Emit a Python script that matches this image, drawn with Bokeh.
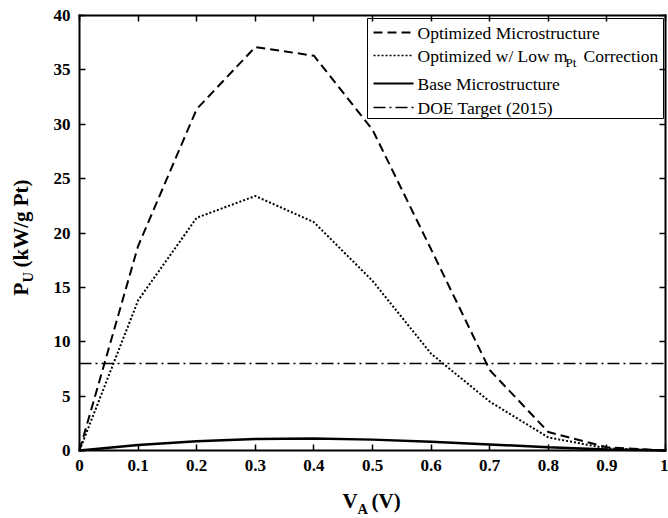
from bokeh.plotting import figure
from bokeh.models import Range1d, LinearAxis, FixedTicker, Label
from bokeh.core.properties import value
from bokeh.embed import file_html
from bokeh.resources import INLINE

# ---- data ----
voltage = [0, 0.1, 0.2, 0.3, 0.4, 0.5, 0.6, 0.7, 0.8, 0.9, 1.0]
optimized = [0, 18.8, 31.4, 37.1, 36.3, 29.5, 18.5, 7.4, 1.7, 0.3, 0]
optimized_low_mpt = [0, 13.8, 21.4, 23.4, 21.0, 15.6, 8.9, 4.5, 1.2, 0.2, 0]
base = [0, 0.5, 0.85, 1.05, 1.1, 1.0, 0.8, 0.55, 0.3, 0.1, 0]
doe_target = 8
doe_x = [0, 1]

x_ticks = [0, 0.1, 0.2, 0.3, 0.4, 0.5, 0.6, 0.7, 0.8, 0.9, 1]
x_tick_labels = ["0", "0.1", "0.2", "0.3", "0.4", "0.5", "0.6", "0.7", "0.8", "0.9", "1"]
y_ticks = [0, 5, 10, 15, 20, 25, 30, 35, 40]
y_tick_labels = ["0", "5", "10", "15", "20", "25", "30", "35", "40"]

legend_labels = ["Optimized Microstructure", "Optimized w/ Low m", "Base Microstructure", "DOE Target (2015)"]

FONT = "Liberation Serif"
W, H = 668, 518
# plot box in page pixels
PX_L, PX_R, PX_T, PX_B = 79, 665, 15, 450
XMIN, XMAX, YMIN, YMAX = 0.0, 1.0, 0.0, 40.0
sx = (PX_R - PX_L) / (XMAX - XMIN)
sy = (PX_B - PX_T) / (YMAX - YMIN)


def dx(px):
    return XMIN + (px - PX_L) / sx


def dy(py):
    return YMIN + (PX_B - py) / sy


p = figure(width=W, height=H, output_backend="svg", toolbar_location=None,
           x_range=Range1d(dx(0), dx(W)), y_range=Range1d(dy(H), dy(0)),
           x_axis_location=None, y_axis_location=None,
           min_border=0)
p.xgrid.visible = False
p.ygrid.visible = False
p.outline_line_color = None
p.background_fill_color = "white"
p.border_fill_color = "white"


def make_axis(ticks, labels, loc, bounds, show_labels):
    ax = LinearAxis(fixed_location=loc, bounds=bounds)
    ax.ticker = FixedTicker(ticks=ticks)
    ax.major_label_overrides = dict(zip(ticks, labels))
    ax.major_tick_in = 6
    ax.major_tick_out = 0
    ax.minor_tick_line_color = None
    ax.axis_line_width = 2
    ax.axis_line_color = "black"
    ax.axis_line_cap = "square"
    ax.major_tick_line_width = 1.5
    ax.major_tick_line_color = "black"
    ax.major_label_text_font = FONT
    ax.major_label_text_font_style = "bold"
    ax.major_label_text_font_size = "17px"
    ax.major_label_standoff = 9
    ax.major_label_text_color = "black" if show_labels else None
    return ax


p.add_layout(make_axis(x_ticks, x_tick_labels, YMIN, (XMIN, XMAX), True), "below")
p.add_layout(make_axis(y_ticks, y_tick_labels, XMIN, (YMIN, YMAX), True), "left")
p.add_layout(make_axis(x_ticks, x_tick_labels, YMAX, (XMIN, XMAX), False), "above")
p.add_layout(make_axis(y_ticks, y_tick_labels, XMAX, (YMIN, YMAX), False), "right")

# ---- data lines ----
p.line(voltage, optimized, line_color="black", line_width=2, line_dash="9 5")
p.line(voltage, optimized_low_mpt, line_color="black", line_width=2, line_dash="2 2")
p.line(voltage, base, line_color="black", line_width=2.5)
p.line(doe_x, [doe_target, doe_target], line_color="black", line_width=1.5, line_dash="12 4 2 4")

# ---- legend (drawn as glyphs so the subscript can be set) ----
p.quad(left=[dx(367)], right=[dx(663)], top=[dy(18)], bottom=[dy(118)],
       fill_color="white", line_color="black", line_width=1)
row_y = [dy(32), dy(55), dy(83), dy(107)]
s0, s1, tx = dx(373), dx(413), dx(417)
p.line([s0, s1], [row_y[0]] * 2, line_color="black", line_width=2, line_dash="9 5")
p.line([s0, s1], [row_y[1]] * 2, line_color="black", line_width=1.5, line_dash="2 2")
p.line([s0, s1], [row_y[2]] * 2, line_color="black", line_width=2)
p.line([s0, s1], [row_y[3]] * 2, line_color="black", line_width=1.5, line_dash="12 4 2 4")
p.text(x=[tx] * 4, y=row_y, text=legend_labels, text_font=value(FONT),
       text_font_size="17.5px", text_baseline="middle", text_color="black")
p.text(x=[dx(565)], y=[dy(62)], text=["Pt"], text_font=value(FONT),
       text_font_size="13px", text_baseline="middle", text_color="black")
p.text(x=[dx(583)], y=[row_y[1]], text=["Correction"], text_font=value(FONT),
       text_font_size="17.5px", text_baseline="middle", text_color="black")


# ---- axis titles ----
def lab(px, py, t, size, angle=0.0):
    p.add_layout(Label(x=dx(px), y=dy(py), text=t, text_font=FONT, text_font_style="bold",
                       text_font_size=size, text_baseline="middle", text_align="left",
                       angle=angle, text_color="black"))


lab(342, 500, "V", "21px")
lab(357, 508, "A", "14.5px")
lab(371, 500, "(V)", "21px")

ANG = 1.5707963267948966
lab(20, 295, "P", "21px", ANG)
lab(27, 282, "U", "14.5px", ANG)
lab(20, 267, "(kW/g Pt)", "21px", ANG)

open("out.html", "w").write(file_html(p, INLINE))
